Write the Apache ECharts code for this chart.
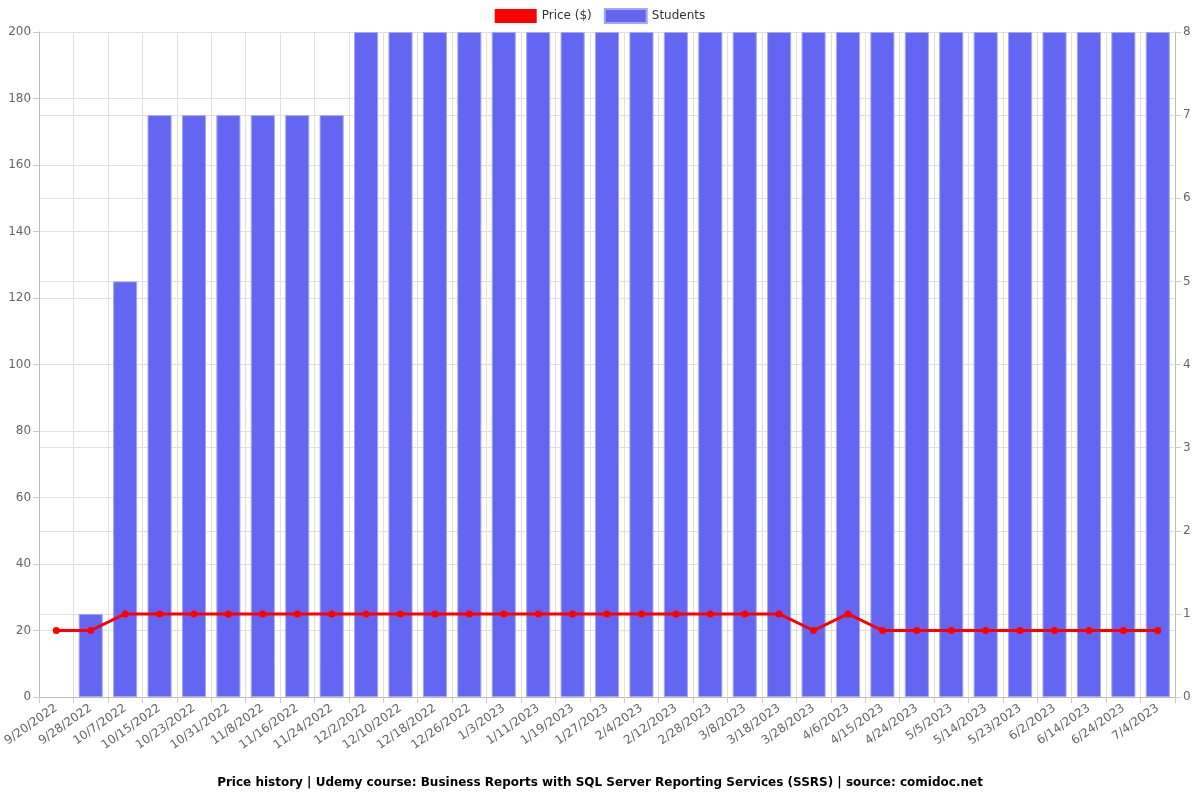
<!DOCTYPE html>
<html><head><meta charset="utf-8">
<script src="https://cdn.jsdelivr.net/npm/echarts@6/dist/echarts.min.js"></script>
<style>html,body{margin:0;padding:0;background:#fff}#c{width:1200px;height:800px}</style>
</head><body><div id="c"></div>
<script>
const categories = ["9/20/2022","9/28/2022","10/7/2022","10/15/2022","10/23/2022","10/31/2022","11/8/2022","11/16/2022","11/24/2022","12/2/2022","12/10/2022","12/18/2022","12/26/2022","1/3/2023","1/11/2023","1/19/2023","1/27/2023","2/4/2023","2/12/2023","2/28/2023","3/8/2023","3/18/2023","3/28/2023","4/6/2023","4/15/2023","4/24/2023","5/5/2023","5/14/2023","5/23/2023","6/2/2023","6/14/2023","6/24/2023","7/4/2023"];
const price = [20,20,25,25,25,25,25,25,25,25,25,25,25,25,25,25,25,25,25,25,25,25,20,25,20,20,20,20,20,20,20,20,20];
const students = [0,1,5,7,7,7,7,7,7,8,8,8,8,8,8,8,8,8,8,8,8,8,8,8,8,8,8,8,8,8,8,8,8];
const titleText = "Price history | Udemy course: Business Reports with SQL Server Reporting Services (SSRS) | source: comidoc.net";

const chart = echarts.init(document.getElementById('c'));
const gridColor = '#e0e0e0';
chart.setOption({
  animation: false,
  title: {text: titleText, left: 'center', bottom: 6,
    textStyle: {fontSize: 12, fontWeight: 'bold', color: '#000', fontFamily: 'DejaVu Sans'}},
  legend: {top: 3, left: 'center', itemWidth: 42, itemHeight: 14, itemGap: 12,
    textStyle: {fontSize: 12, color: '#333', fontFamily: 'DejaVu Sans'},
    data: [{name: 'Price ($)', icon: 'rect'}, {name: 'Students', icon: 'rect'}]},
  grid: {left: 38, right: 25, top: 32, bottom: 103, containLabel: false},
  xAxis: {type: 'category', data: categories, boundaryGap: true,
    axisLine: {lineStyle: {color: '#bbb'}},
    axisTick: {show: true, alignWithLabel: false, length: 6, lineStyle: {color: '#ccc'}},
    splitLine: {show: true, interval: 0, lineStyle: {color: gridColor}},
    axisLabel: {interval: 0, rotate: 35, fontSize: 12, color: '#666', fontFamily: 'DejaVu Sans', margin: 10}},
  yAxis: [
    {type: 'value', min: 0, max: 200, interval: 20, position: 'left',
     axisLine: {show: true, lineStyle: {color: '#bbb'}}, axisTick: {show: true, length: 6, lineStyle: {color: '#ccc'}},
     splitLine: {lineStyle: {color: gridColor}},
     axisLabel: {fontSize: 12, color: '#666', fontFamily: 'DejaVu Sans', margin: 8}},
    {type: 'value', min: 0, max: 8, interval: 1, position: 'right',
     axisLine: {show: true, lineStyle: {color: '#bbb'}}, axisTick: {show: true, length: 6, lineStyle: {color: '#ccc'}},
     splitLine: {lineStyle: {color: gridColor}},
     axisLabel: {fontSize: 12, color: '#666', fontFamily: 'DejaVu Sans', margin: 8}}
  ],
  series: [
    {name: 'Price ($)', type: 'line', yAxisIndex: 0, data: price, z: 5,
     color: '#ff0000', symbol: 'circle', symbolSize: 7,
     lineStyle: {width: 3, color: '#ff0000'}, itemStyle: {color: '#ff0000'}},
    {name: 'Students', type: 'bar', yAxisIndex: 1,
     data: students.map(v => v === 0 ? {value: v, itemStyle: {borderWidth: 0}} : v),
     barWidth: '70%',
     color: '#6366f1', itemStyle: {color: '#6366f1', borderColor: '#a5a7f5', borderWidth: 1}}
  ]
});
</script></body></html>
